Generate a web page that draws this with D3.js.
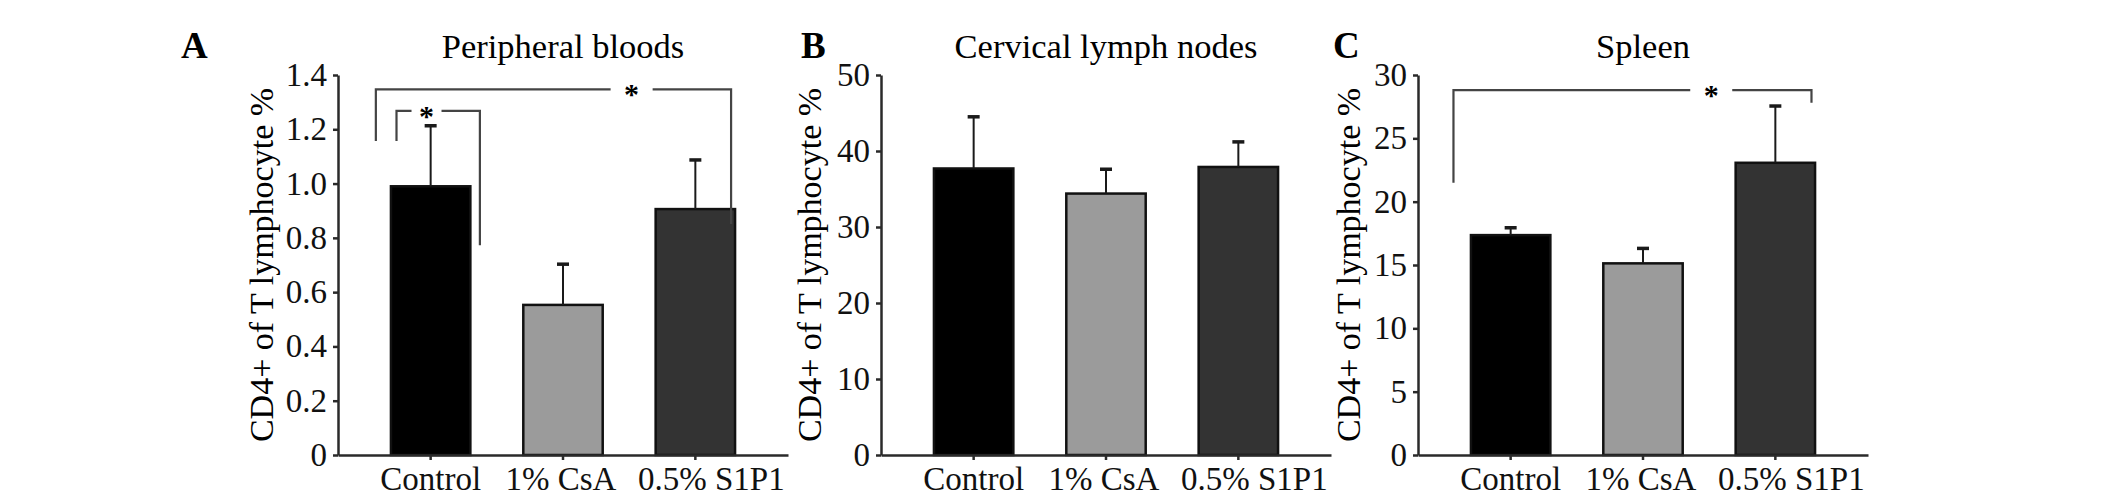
<!DOCTYPE html>
<html>
<head>
<meta charset="utf-8">
<script src="https://cdn.jsdelivr.net/npm/d3@7"></script>
<style>
  body { margin: 0; background: #fff; }
  svg { display: block; font-family: "Liberation Serif", "Times New Roman", serif; }
</style>
</head>
<body>
<div id="chart"></div>
<script>
// groups shared by the three panels
const groups = ["Control", "1% CsA", "0.5% S1P1"];

// A - peripheral bloods
const bloodMean = [0.99, 0.553, 0.906];
const bloodSd = [0.223, 0.15, 0.181];
const bloodTicks = [0, 0.2, 0.4, 0.6, 0.8, 1.0, 1.2, 1.4];

// B - cervical lymph nodes
const lymphMean = [37.7, 34.4, 37.9];
const lymphSd = [6.8, 3.2, 3.3];
const lymphTicks = [0, 10, 20, 30, 40, 50];

// C - spleen
const spleenMean = [17.36, 15.13, 23.07];
const spleenSd = [0.58, 1.18, 4.48];
const spleenTicks = [0, 5, 10, 15, 20, 25, 30];

// significance brackets: level of the bar, and where each leg stops
const bloodBrackets = [
    { from: "Control", to: "0.5% S1P1", level: 1.347, leftEnd: 1.157, rightEnd: 0.851 },
    { from: "Control", to: "Control", level: 1.268, leftEnd: 1.157, rightEnd: 0.773 }
];
const spleenBrackets = [
    { from: "Control", to: "0.5% S1P1", level: 28.8, leftEnd: 21.5, rightEnd: 27.8 }
];

const barColors = ["#000000", "#9b9b9b", "#333333"];

const W = 2126, H = 502;
const plotTop = 75, plotBottom = 455, plotWidth = 450;
// the category labels are not quite centred under their ticks in the original
const labelShift = [0, -2, 16];

// bracket leg offsets inside the bands, star spot along the bar, gap half width
const bracketLayout = {
    A: [{ l: -0.19, r: 0.95, star: 0.72, gap: 21 }, { l: 0.07, r: 1.12, star: 0.36, gap: 15 }],
    C: [{ l: -0.22, r: 0.955, star: 0.72, gap: 21 }]
};

const panels = [
    { id: "A", title: "Peripheral bloods", mean: bloodMean, sd: bloodSd, ticks: bloodTicks,
      brackets: bloodBrackets, axisX: 338, letterX: 181, labelOff: 65,
      fmt: d => d === 0 ? "0" : d3.format(".1f")(d) },
    { id: "B", title: "Cervical lymph nodes", mean: lymphMean, sd: lymphSd, ticks: lymphTicks,
      brackets: [], axisX: 881, letterX: 801, labelOff: 60, fmt: d3.format("d") },
    { id: "C", title: "Spleen", mean: spleenMean, sd: spleenSd, ticks: spleenTicks,
      brackets: spleenBrackets, axisX: 1418, letterX: 1333, labelOff: 58, fmt: d3.format("d") }
];

const svg = d3.select("#chart").append("svg")
    .attr("width", W)
    .attr("height", H);

panels.forEach(p => {
    const g = svg.append("g").attr("transform", `translate(${p.axisX},0)`);

    const x = d3.scaleBand().domain(groups).range([0, plotWidth])
        .paddingInner(0.4).paddingOuter(0.4);
    const y = d3.scaleLinear().domain([0, d3.max(p.ticks)]).range([plotBottom, plotTop]);

    // panel letter and title
    svg.append("text")
        .attr("x", p.letterX)
        .attr("y", 58)
        .attr("font-size", "37px")
        .attr("font-weight", "bold")
        .text(p.id);
    g.append("text")
        .attr("x", plotWidth / 2)
        .attr("y", 58)
        .attr("text-anchor", "middle")
        .attr("font-size", "34.5px")
        .text(p.title);

    // y label
    g.append("text")
        .attr("transform", `translate(${-p.labelOff},${(plotTop + plotBottom) / 2}) rotate(-90)`)
        .attr("text-anchor", "middle")
        .attr("font-size", "34px")
        .text("CD4+ of T lymphocyte %");

    // bars
    g.selectAll(".bar").data(p.mean).enter().append("rect")
        .attr("class", "bar")
        .attr("x", (d, i) => x(groups[i]))
        .attr("y", d => y(d))
        .attr("width", x.bandwidth())
        .attr("height", d => plotBottom - y(d))
        .attr("fill", (d, i) => barColors[i])
        .attr("stroke", "#111")
        .attr("stroke-width", 2.5);

    // error bars, upper side only
    const cx = i => x(groups[i]) + x.bandwidth() / 2;
    g.selectAll(".err").data(p.mean).enter().append("line")
        .attr("x1", (d, i) => cx(i)).attr("x2", (d, i) => cx(i))
        .attr("y1", d => y(d))
        .attr("y2", (d, i) => y(d + p.sd[i]))
        .attr("stroke", "#1a1a1a")
        .attr("stroke-width", 2);
    g.selectAll(".cap").data(p.mean).enter().append("line")
        .attr("x1", (d, i) => cx(i) - 6).attr("x2", (d, i) => cx(i) + 6)
        .attr("y1", (d, i) => y(d + p.sd[i]))
        .attr("y2", (d, i) => y(d + p.sd[i]))
        .attr("stroke", "#1a1a1a")
        .attr("stroke-width", 3.5);

    // axes
    const yAxis = d3.axisLeft(y).tickValues(p.ticks).tickFormat(p.fmt)
        .tickSize(5).tickPadding(6).tickSizeOuter(0);
    const yG = g.append("g").call(yAxis);
    yG.attr("font-family", null);
    yG.selectAll("text").attr("font-size", "33px").attr("fill", "#111");

    const xAxis = d3.axisBottom(x).tickSize(5).tickPadding(7).tickSizeOuter(0);
    const xG = g.append("g").attr("transform", `translate(0,${plotBottom})`).call(xAxis);
    xG.attr("font-family", null);
    xG.selectAll("text")
        .attr("font-size", "33px")
        .attr("fill", "#111")
        .attr("dx", (d, i) => labelShift[i]);

    [yG, xG].forEach(a => {
        a.select(".domain").attr("stroke", "#2a2a2a").attr("stroke-width", 2.5);
        a.selectAll(".tick line").attr("stroke", "#2a2a2a").attr("stroke-width", 2.5);
    });

    // significance brackets
    p.brackets.forEach((b, k) => {
        const lay = bracketLayout[p.id][k];
        const xl = x(b.from) + lay.l * x.bandwidth();
        const xr = x(b.to) + lay.r * x.bandwidth();
        const ly = y(b.level);
        const xs = xl + lay.star * (xr - xl);
        g.append("path")
            .attr("d", `M${xl},${y(b.leftEnd)}V${ly}H${xs - lay.gap}M${xs + lay.gap},${ly}H${xr}V${y(b.rightEnd)}`)
            .attr("fill", "none")
            .attr("stroke", "#444")
            .attr("stroke-width", 2.2);
        g.append("text")
            .attr("x", xs)
            .attr("y", ly + 15)
            .attr("text-anchor", "middle")
            .attr("font-size", "30px")
            .attr("font-weight", "bold")
            .text("*");
    });
});
</script>
</body>
</html>
